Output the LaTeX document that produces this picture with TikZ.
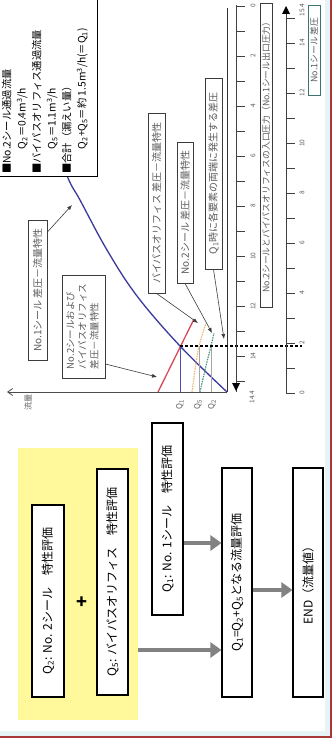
\documentclass[tikz,border=0pt]{standalone}
\usepackage{fontspec}
\setmainfont{Noto Sans CJK JP}
\usepackage{graphicx}
\usetikzlibrary{arrows.meta,calc}
\definecolor{flowgray}{HTML}{828282}
\definecolor{yel}{HTML}{FFF99C}
\definecolor{framered}{HTML}{A83838}
\definecolor{innerblue}{HTML}{E6F4F8}
\definecolor{bluec}{HTML}{3A3A9E}
\definecolor{redc}{HTML}{D8485A}
\definecolor{orangec}{HTML}{E8B46A}
\definecolor{greenc}{HTML}{3E8E7A}
\definecolor{anntext}{HTML}{5A5A5A}
\definecolor{annline}{HTML}{3C3C3C}
\definecolor{tealbox}{HTML}{3C7474}
\begin{document}
\begin{tikzpicture}[x=1pt,y=1pt,
  fbox/.style={draw=black, line width=1.1, fill=white, inner sep=0pt, font=\fontsize{12}{14}\selectfont},
  flowarrow/.style={draw=flowgray, line width=4.5, -{Triangle[length=11pt,width=15pt]}},
  annbox/.style={draw=annline, line width=0.8, fill=white, inner sep=0pt, text=anntext, font=\fontsize{10}{12}\selectfont},
  annarrow/.style={draw=annline, line width=0.6, -{Latex[length=5pt,width=4pt]}},
  rulerline/.style={draw=black!75, line width=0.9},
  rlab/.style={inner sep=0pt, text=anntext, font=\fontsize{6.5}{7}\selectfont},
  qlab/.style={inner sep=0pt, text=anntext, font=\fontsize{8}{9}\selectfont}
]
\useasboundingbox (0,0) rectangle (334,-749);
\clip (0,0) rectangle (334,-749);
\fill[white] (0,0) rectangle (334,-749);
% frame
\draw[draw=innerblue, line width=5] (-10,10) rectangle (327.5,-733.5);
\draw[draw=framered, line width=1.6] (-10,10) rectangle (331,-737);

% ---------------- flowchart ----------------
\node[fill=yel, minimum width=120, minimum height=272, inner sep=0pt] (yellow) at (78,-584) {};
\node[fbox, minimum width=32, minimum height=192] (q2) at (48,-601)
  {\rotatebox{90}{Q\textsubscript{2}: No. 2シール　特性評価}};
\node[inner sep=0pt, font=\fontsize{18}{18}\selectfont\bfseries] (plus) at (82,-603) {+};
\node[fbox, minimum width=31, minimum height=226] (q5) at (112.5,-582)
  {\rotatebox{90}{Q\textsubscript{5}: バイパスオリフィス　特性評価}};
\node[fbox, minimum width=31, minimum height=192] (q1) at (167.5,-519)
  {\rotatebox{90}{Q\textsubscript{1}: No. 1シール　特性評価}};
\node[fbox, minimum width=30, minimum height=229] (qs) at (237,-582.5)
  {\rotatebox{90}{Q\textsubscript{1}=Q\textsubscript{2}+Q\textsubscript{5}となる流量評価}};
\node[fbox, minimum width=30, minimum height=229] (endbox) at (308,-582.5)
  {\rotatebox{90}{END（流量値）}};
\draw[flowarrow] (yellow.east |- 0,-650) -- (qs.west |- 0,-650);
\draw[flowarrow] (q1.east |- 0,-543) -- (qs.west |- 0,-543);
\draw[flowarrow] (qs.east |- 0,-590) -- (endbox.west |- 0,-590);

% ---------------- chart ----------------
\coordinate (O) at (227,-392);
\coordinate (Ytop) at (227,-8);
\coordinate (Xend) at (7,-392);
\draw[draw=black!80, line width=0.9] (O) -- (Ytop);
\draw[draw=black!70, line width=0.8, -{Straight Barb[length=5pt,width=7pt]}] (O) -- (Xend);
\node[qlab] (flowlab) at (28,-402) {\rotatebox{90}{流量}};

% curves
\draw[draw=bluec, line width=1.3] plot[smooth, tension=0.6] coordinates
  {(45,-120) (68,-178) (80,-200) (107,-250) (137,-296) (180,-346) (227,-392)};
\coordinate (R0) at (158,-392);
\coordinate (R1) at (194,-319);
\draw[draw=redc, line width=1.3] (R0) -- (R1);
\draw[draw=orangec, line width=1.1, dash pattern=on 1.5pt off 1pt] plot[smooth] coordinates
  {(192,-392) (195,-370) (199,-346) (206,-323)};
\draw[draw=greenc, line width=1.1, dash pattern=on 1.5pt off 1pt] plot[smooth] coordinates
  {(200,-392) (205,-370) (211,-346) (214,-333)};
\coordinate (P1) at (180,-346);
\coordinate (P5) at (199,-346);
\coordinate (P2) at (211,-346);
\draw[draw=blue!40!gray, line width=0.6] (P1) -- (180,-392);
\draw[draw=gray!70, line width=0.6] (P5) -- (199,-392);
\draw[draw=gray!70, line width=0.6] (P2) -- (211,-392);
\coordinate (Dend) at (302,-346);
\draw[draw=black, line width=1.2, dash pattern=on 3pt off 2pt] (P1) -- (Dend);
\node[qlab] (lq1) at (180,-405) {\rotatebox{90}{Q\textsubscript{1}}};
\node[qlab] (lq5) at (198,-405) {\rotatebox{90}{Q\textsubscript{5}}};
\node[qlab] (lq2) at (212,-405) {\rotatebox{90}{Q\textsubscript{2}}};

% ruler 1
\draw[rulerline] (236,-5) -- (236,-392);
\foreach \k in {0,...,15} \draw[rulerline] (236,{-6-25*\k}) -- ++(9,0);
\foreach \v [count=\i from 0] in {0,2,4,6,8,10,12,14}
  \node[rlab] at (253,{-6-50*\i}) {\rotatebox{90}{\v}};
\node[rlab] (r1end) at (252,-397) {\rotatebox{90}{14.4}};
\fill[black] (232,-383) -- (240,-383) -- (236,-391) -- cycle;
% ruler 2
\draw[rulerline] (286,-8) -- (286,-393);
\foreach \k in {0,...,15} \draw[rulerline] (286,{-393+25*\k}) -- ++(9,0);
\foreach \v [count=\i from 0] in {0,2,4,6,8,10,12,14}
  \node[rlab] at (302,{-393+50*\i}) {\rotatebox{90}{\v}};
\node[rlab] (r2end) at (302,-10) {\rotatebox{90}{15.4}};
\fill[black] (282,-14) -- (290,-14) -- (286,-6) -- cycle;

% annotation boxes
\node[annbox, minimum width=19, minimum height=140] (n1b) at (37.5,-290)
  {\rotatebox{90}{No.1シール 差圧－流量特性}};
\node[annbox, minimum width=43, minimum height=103, font=\fontsize{9.5}{12}\selectfont] (n2bb) at (83.5,-326.5)
  {\rotatebox{90}{\begin{tabular}{@{}l@{}}No.2シールおよび\\バイパスオリフィス\\差圧－流量特性\end{tabular}}};
\node[annbox, minimum width=17, minimum height=180] (byb) at (156.5,-203)
  {\rotatebox{90}{バイパスオリフィス 差圧－流量特性}};
\node[annbox, minimum width=16, minimum height=141] (n2b) at (185,-212.5)
  {\rotatebox{90}{No.2シール 差圧－流量特性}};
\node[annbox, minimum width=17, minimum height=191] (q1b) at (213.5,-173.5)
  {\rotatebox{90}{Q\textsubscript{1}時に各要素の両端に発生する差圧}};
\node[annbox, minimum width=12, minimum height=304, font=\fontsize{8.8}{10}\selectfont] (inlet) at (266,-155)
  {\rotatebox{90}{No.2シールとバイパスオリフィスの入口圧力（No.1シール出口圧力）}};
\node[annbox, draw=tealbox, minimum width=12, minimum height=90, font=\fontsize{8.8}{10}\selectfont] (n1dp) at (314,-50)
  {\rotatebox{90}{No.1シール 差圧}};

\coordinate (tipA) at (72,-205);
\coordinate (tipB) at (157,-377);
\coordinate (tipC) at (198,-323);
\coordinate (tipD) at (212,-333);
\coordinate (tipE) at (224,-339);
\draw[annarrow] (n1b.east |- 0,-232) -- (tipA);
\draw[annarrow] (n2bb.east |- 0,-364) -- (tipB);
\draw[annarrow] (byb.south) -- (tipC);
\draw[annarrow] (n2b.south) -- (tipD);
\draw[annarrow] (q1b.south) -- (tipE);

% legend
\node[draw=black, line width=1.3, fill=white, minimum width=110, minimum height=190, anchor=south east, inner sep=0pt] (legend) at (98,-177) {};
\node[anchor=south west, inner sep=0pt, font=\fontsize{10.3}{15}\selectfont] (legtext) at (0,-174)
  {\rotatebox{90}{\begin{tabular}{@{}l@{}}
  ■No.2シール通過流量\\
  \hspace{2.4em}Q\textsubscript{2}＝0.4m\textsuperscript{3}/h\\
  ■バイパスオリフィス通過流量\\
  \hspace{2.4em}Q\textsubscript{5}＝1.1m\textsuperscript{3}/h\\
  ■合計（漏えい量）\\
  \hspace{2.4em}Q\textsubscript{2}+Q\textsubscript{5}＝約 1.5m\textsuperscript{3}/h(＝Q\textsubscript{1})
  \end{tabular}}};
\end{tikzpicture}
\end{document}
